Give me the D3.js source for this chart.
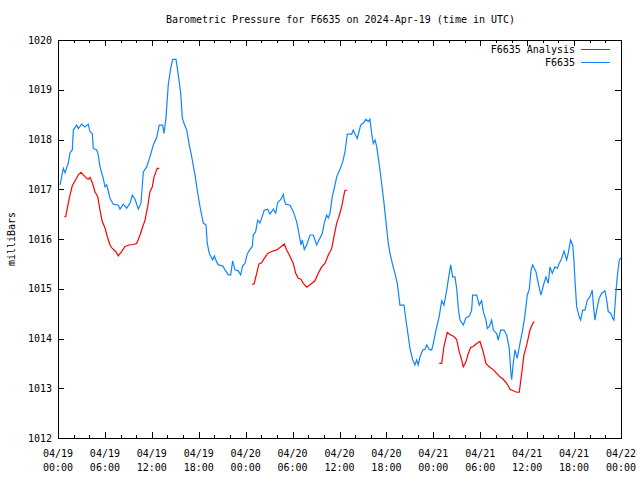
<!DOCTYPE html>
<html>
<head>
<meta charset="utf-8">
<script src="https://cdn.jsdelivr.net/npm/d3@7"></script>
<style>
  body { margin: 0; background: #fff; }
  text { font-family: "DejaVu Sans Mono", "Liberation Mono", monospace; font-size: 10px; fill: #000; }
</style>
</head>
<body>
<div id="chart"></div>
<script>
// hours since 2024-04-19 00:00 UTC, pressure in mb
const blueHours = [0.26,0.68,0.90,1.32,1.53,1.83,1.96,2.39,2.60,3.03,3.45,3.87,4.09,4.39,4.51,4.95,5.15,5.37,5.79,6.01,
  6.23,6.65,7.07,7.71,7.93,8.35,8.79,9.21,9.50,9.85,10.27,10.61,10.91,11.34,11.76,12.19,12.62,12.95,13.39,13.55,
  13.81,14.10,14.41,14.67,15.09,15.38,15.69,15.90,16.15,16.46,16.79,17.10,17.52,17.81,18.16,18.58,18.93,19.09,19.35,19.78,
  19.99,20.29,20.50,21.06,21.36,21.78,22.08,22.34,22.63,23.06,23.36,23.62,23.91,24.21,24.55,24.85,24.97,25.28,25.54,25.83,
  26.04,26.38,26.82,27.11,27.53,27.84,28.09,28.52,28.81,28.94,29.12,29.67,30.09,30.52,30.82,31.07,31.24,31.50,31.80,32.23,
  32.65,33.08,33.38,33.80,34.05,34.36,34.57,34.78,35.08,35.33,35.64,36.06,36.41,36.70,37.00,37.56,37.76,37.98,38.27,38.71,
  39.04,39.39,39.68,39.90,40.11,40.32,40.54,40.75,41.09,41.39,41.69,41.94,42.24,42.46,42.80,43.09,43.39,43.73,44.25,44.50,
  44.80,45.01,45.36,45.65,45.87,46.07,46.29,46.64,46.93,47.15,47.48,47.79,48.00,48.34,48.76,49.07,49.36,49.71,49.91,50.22,
  50.47,50.77,50.98,51.19,51.41,51.83,52.17,52.60,52.90,53.03,53.54,53.87,54.18,54.39,54.73,54.90,55.15,55.46,55.67,56.10,
  56.30,56.61,57.03,57.38,57.71,57.89,58.02,58.22,58.44,58.73,59.08,59.42,59.72,60.01,60.27,60.50,60.70,61.13,61.42,61.76,
  62.15,62.40,62.70,62.92,63.21,63.55,63.85,64.10,64.41,64.71,65.05,65.26,65.56,65.82,65.98,66.11,66.33,66.66,66.84,67.10,
  67.39,67.69,68.03,68.32,68.45,68.67,68.89,69.22,69.53,69.95,70.17,70.37,70.68,70.93,71.10,71.36,71.52,71.78,72.00];
const blueValues = [1017.09,1017.42,1017.33,1017.53,1017.73,1017.79,1018.19,1018.29,1018.22,1018.31,1018.25,1018.31,1018.16,1018.12,1017.82,1017.79,1017.69,1017.45,1017.22,1017.05,
  1017.09,1016.82,1016.70,1016.68,1016.60,1016.70,1016.62,1016.72,1016.88,1016.80,1016.60,1016.72,1017.35,1017.45,1017.65,1017.89,1018.04,1018.29,1018.29,1018.12,
  1018.43,1019.10,1019.43,1019.61,1019.61,1019.30,1018.93,1018.43,1018.31,1018.19,1017.89,1017.65,1017.29,1016.98,1016.65,1016.32,1016.28,1015.91,1015.71,1015.58,
  1015.66,1015.54,1015.48,1015.46,1015.38,1015.28,1015.28,1015.56,1015.38,1015.36,1015.28,1015.46,1015.51,1015.70,1015.79,1015.85,1016.08,1016.15,1016.38,1016.32,
  1016.42,1016.58,1016.60,1016.50,1016.60,1016.52,1016.73,1016.80,1016.90,1016.78,1016.70,1016.68,1016.55,1016.35,1016.11,1015.88,1015.98,1015.79,1015.88,1016.08,
  1016.08,1015.88,1015.98,1016.11,1016.32,1016.48,1016.42,1016.52,1016.85,1017.02,1017.25,1017.40,1017.55,1017.75,1018.11,1018.11,1018.19,1018.11,1018.02,1018.29,
  1018.33,1018.41,1018.36,1018.41,1018.12,1017.92,1017.99,1017.86,1017.49,1017.12,1016.72,1016.35,1015.91,1015.71,1015.48,1015.31,1015.11,1014.67,1014.67,1014.37,
  1014.04,1013.80,1013.57,1013.47,1013.57,1013.47,1013.63,1013.77,1013.78,1013.87,1013.78,1013.77,1013.90,1014.17,1014.45,1014.76,1014.67,1014.97,1015.18,1015.48,
  1015.24,1015.24,1015.01,1014.61,1014.37,1014.27,1014.41,1014.45,1014.57,1014.87,1014.87,1014.67,1014.76,1014.54,1014.37,1014.20,1014.24,1014.37,1014.17,1014.10,
  1013.97,1014.17,1014.17,1014.07,1013.80,1013.37,1013.17,1013.50,1013.77,1013.60,1013.90,1014.17,1014.47,1014.87,1014.99,1015.38,1015.48,1015.34,1015.11,1014.87,
  1015.11,1015.24,1015.11,1015.44,1015.31,1015.44,1015.41,1015.51,1015.61,1015.76,1015.58,1015.72,1015.98,1015.88,1015.58,1015.18,1014.64,1014.43,1014.37,1014.57,
  1014.57,1014.77,1014.84,1014.97,1014.71,1014.37,1014.57,1014.81,1014.91,1014.96,1014.77,1014.54,1014.51,1014.41,1014.37,1014.94,1015.24,1015.58,1015.62];

// analysis series, null marks a gap between runs
const redHours = [0.81,0.98,1.32,1.53,1.83,2.26,2.60,2.94,3.24,3.67,3.87,4.09,4.39,4.73,5.08,5.37,5.66,6.01,6.30,6.65,
  6.94,7.38,7.71,8.15,8.57,9.08,9.63,10.06,10.49,10.78,11.13,11.47,11.76,12.06,12.28,12.70,12.95,
  18.0,
  24.85,25.10,25.41,25.70,26.05,26.38,26.82,27.33,27.97,28.39,28.94,29.25,29.67,30.09,30.40,30.73,31.07,31.37,31.80,32.23,
  32.86,33.29,33.72,34.14,34.57,35.00,35.33,35.64,35.93,36.28,36.61,36.70,37.00,
  42.0,
  48.76,49.07,49.36,49.78,50.22,50.64,50.98,51.32,51.62,51.83,52.17,52.47,52.77,53.11,53.54,53.96,54.31,54.73,55.15,55.67,
  56.10,56.52,56.94,57.38,57.80,58.22,58.66,58.99,59.30,59.59,59.94,60.36,60.70,60.91];
const redValues = [1016.45,1016.45,1016.72,1016.88,1017.07,1017.19,1017.29,1017.34,1017.29,1017.22,1017.20,1017.24,1017.13,1016.95,1016.85,1016.58,1016.35,1016.22,1016.05,1015.88,
  1015.81,1015.75,1015.66,1015.75,1015.85,1015.88,1015.89,1015.91,1016.08,1016.22,1016.38,1016.65,1016.95,1017.05,1017.25,1017.42,1017.42,
  null,
  1015.08,1015.11,1015.31,1015.50,1015.52,1015.61,1015.71,1015.75,1015.78,1015.83,1015.90,1015.78,1015.65,1015.51,1015.31,1015.21,1015.19,1015.11,1015.03,1015.08,
  1015.16,1015.31,1015.44,1015.51,1015.68,1015.81,1016.08,1016.32,1016.45,1016.65,1016.92,1016.98,1016.98,
  null,
  1013.50,1013.50,1013.84,1014.12,1014.07,1014.04,1013.98,1013.73,1013.57,1013.43,1013.53,1013.70,1013.82,1013.84,1013.90,1013.94,1013.77,1013.50,1013.43,1013.37,
  1013.30,1013.23,1013.18,1013.10,1012.98,1012.95,1012.92,1012.92,1013.30,1013.67,1013.87,1014.17,1014.30,1014.34];

const yTicks = [1012, 1013, 1014, 1015, 1016, 1017, 1018, 1019, 1020];
const seriesNames = ["F6635 Analysis", "F6635"];
const seriesColors = ["#ff0000", "#0f85ff"];

const t0 = Date.UTC(2024, 3, 19);
const toDate = h => new Date(t0 + h * 3600e3);

const width = 640, height = 480;
const margin = {top: 40, right: 19, bottom: 42, left: 58};

const svg = d3.select("#chart").append("svg")
  .attr("width", width)
  .attr("height", height);

svg.append("rect").attr("width", width).attr("height", height).attr("fill", "#fff");

const x = d3.scaleUtc()
  .domain([toDate(0), toDate(72)])
  .range([margin.left, width - margin.right]);
const y = d3.scaleLinear()
  .domain([1012, 1020])
  .range([height - margin.bottom, margin.top]);

const major = d3.utcHour.every(6).range(toDate(0), toDate(72.01));
const minor = d3.utcHour.every(2).range(toDate(0), toDate(72.01)).filter(d => d.getUTCHours() % 6 != 0);

// ticks point inward, mirrored on top and right like gnuplot
const tickG = svg.append("g").attr("stroke", "#000").attr("shape-rendering", "crispEdges");
function xTicks(list, len) {
  list.forEach(d => {
    let px = Math.round(x(d)) + 0.5;
    tickG.append("line").attr("x1", px).attr("x2", px).attr("y1", y(1012)).attr("y2", y(1012) - len);
    tickG.append("line").attr("x1", px).attr("x2", px).attr("y1", y(1020)).attr("y2", y(1020) + len);
  });
}
xTicks(major, 6);
xTicks(minor, 3);
yTicks.forEach(v => {
  let py = Math.round(y(v)) + 0.5;
  tickG.append("line").attr("x1", x.range()[0]).attr("x2", x.range()[0] + 6).attr("y1", py).attr("y2", py);
  tickG.append("line").attr("x1", x.range()[1]).attr("x2", x.range()[1] - 6).attr("y1", py).attr("y2", py);
});

svg.append("rect")
  .attr("x", margin.left + 0.5).attr("y", margin.top + 0.5)
  .attr("width", x.range()[1] - x.range()[0])
  .attr("height", y(1012) - y(1020))
  .attr("fill", "none").attr("stroke", "#000")
  .attr("shape-rendering", "crispEdges");

svg.append("g").selectAll("text").data(yTicks).join("text")
  .attr("x", margin.left - 6)
  .attr("y", d => y(d))
  .attr("dy", "0.35em")
  .attr("text-anchor", "end")
  .text(d => d);

const fmtDay = d3.utcFormat("%m/%d"), fmtTime = d3.utcFormat("%H:%M");
const xl = svg.append("g").selectAll("text").data(major).join("text")
  .attr("text-anchor", "middle");
xl.append("tspan").attr("x", d => x(d)).attr("y", 457).text(fmtDay);
xl.append("tspan").attr("x", d => x(d)).attr("y", 471).text(fmtTime);

svg.append("text")
  .attr("x", (x.range()[0] + x.range()[1]) / 2 + 1)
  .attr("y", 23)
  .attr("text-anchor", "middle")
  .text("Barometric Pressure for F6635 on 2024-Apr-19 (time in UTC)");

svg.append("text")
  .attr("transform", `translate(15,${(y(1012) + y(1020)) / 2}) rotate(-90)`)
  .attr("text-anchor", "middle")
  .text("milliBars");

const line = d3.line()
  .defined(d => d.v != null)
  .x(d => x(toDate(d.h)))
  .y(d => y(d.v));

const blue = blueHours.map((h, i) => ({h: h, v: blueValues[i]}));
const red = redHours.map((h, i) => ({h: h, v: redValues[i]}));

svg.append("path").datum(blue)
  .attr("d", line).attr("fill", "none")
  .attr("stroke", seriesColors[1]).attr("stroke-width", 1.2);
svg.append("path").datum(red)
  .attr("d", line).attr("fill", "none")
  .attr("stroke", seriesColors[0]).attr("stroke-width", 1.2);

// legend, top right inside the frame
const legend = svg.append("g").selectAll("g").data(seriesNames).join("g")
  .attr("transform", (d, i) => `translate(0,${49 + i * 13})`);
legend.append("text")
  .attr("x", 575).attr("dy", "0.35em")
  .attr("text-anchor", "end")
  .text(d => d);
legend.append("line")
  .attr("x1", 581).attr("x2", 610)
  .attr("y1", 0.5).attr("y2", 0.5)
  .attr("stroke", (d, i) => seriesColors[i])
  .attr("shape-rendering", "crispEdges");
</script>
</body>
</html>
